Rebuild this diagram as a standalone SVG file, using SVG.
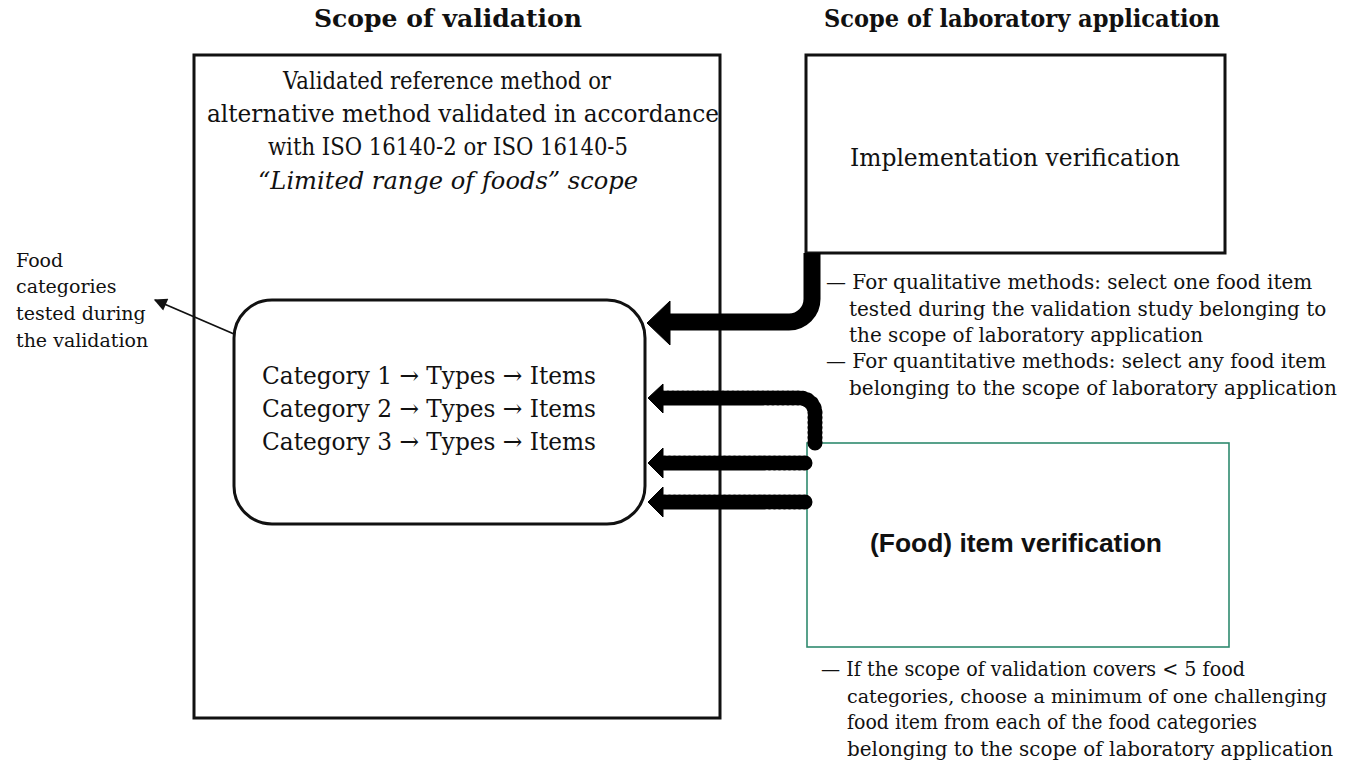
<svg xmlns="http://www.w3.org/2000/svg" width="1345" height="773" viewBox="0 0 1345 773">
  <style>
    .serif { font-family: "DejaVu Serif", "Liberation Serif", serif; fill: #111; }
    .title { font-weight: bold; font-size: 24px; }
    .body { font-size: 24px; }
    .note { font-size: 20px; }
    .box { fill: #fff; stroke: #111; stroke-width: 3; }
    .green { fill: #fff; stroke: #2f8a6e; stroke-width: 1.6; }
    .solid { fill: none; stroke: #000; stroke-width: 17; }
    .dots { fill: none; stroke: #000; stroke-width: 15; stroke-dasharray: 1 4; stroke-linecap: round; stroke-linejoin: round; }
    .head { fill: #000; stroke: #000; stroke-width: 1; stroke-linejoin: round; }
    .thin { fill: none; stroke: #111; stroke-width: 1.8; }
  </style>
  <defs>
    <marker id="tipLarge" viewBox="0 0 10 10" refX="9" refY="5" markerWidth="15" markerHeight="13" markerUnits="userSpaceOnUse" orient="auto">
      <path d="M0 0 L10 5 L0 10 Z" fill="#111"/>
    </marker>
  </defs>
  <rect width="1345" height="773" fill="#fff"/>

  <!-- column headings -->
  <g id="headings" class="serif title">
    <text x="314" y="27" textLength="268" lengthAdjust="spacingAndGlyphs">Scope of validation</text>
    <text x="824" y="27" textLength="396" lengthAdjust="spacingAndGlyphs">Scope of laboratory application</text>
  </g>

  <!-- scope of validation: outer frame -->
  <g id="validation-scope">
    <rect class="box" x="194" y="55" width="526" height="663"/>
    <g class="serif body">
      <text x="283" y="89" textLength="328" lengthAdjust="spacingAndGlyphs">Validated reference method or</text>
      <text x="207" y="122" textLength="512" lengthAdjust="spacingAndGlyphs">alternative method validated in accordance</text>
      <text x="268" y="155" textLength="360" lengthAdjust="spacingAndGlyphs">with ISO 16140-2 or ISO 16140-5</text>
      <text x="258" y="189" textLength="380" lengthAdjust="spacingAndGlyphs" font-style="italic">“Limited range of foods” scope</text>
    </g>
  </g>

  <!-- tested food categories -->
  <g id="food-categories">
    <rect class="box" x="234" y="300" width="411" height="224" rx="38" ry="38"/>
    <g class="serif" font-size="24.5">
      <text x="262" y="384" textLength="334" lengthAdjust="spacingAndGlyphs">Category 1 → Types → Items</text>
      <text x="262" y="417" textLength="334" lengthAdjust="spacingAndGlyphs">Category 2 → Types → Items</text>
      <text x="262" y="450" textLength="334" lengthAdjust="spacingAndGlyphs">Category 3 → Types → Items</text>
    </g>
  </g>

  <!-- side label -->
  <g id="categories-label" class="serif" font-size="19">
    <text x="16" y="267">Food</text>
    <text x="16" y="293">categories</text>
    <text x="16" y="320">tested during</text>
    <text x="16" y="347">the validation</text>
  </g>

  <!-- implementation verification -->
  <g id="implementation-verification">
    <rect class="box" x="806" y="55" width="419" height="198" stroke-width="2.5"/>
    <text class="serif body" x="850" y="166" textLength="330" lengthAdjust="spacingAndGlyphs">Implementation verification</text>
  </g>

  <g id="implementation-notes" class="serif note">
    <text x="826" y="289">— For qualitative methods: select one food item</text>
    <text x="849" y="316">tested during the validation study belonging to</text>
    <text x="849" y="342">the scope of laboratory application</text>
    <text x="826" y="368">— For quantitative methods: select any food item</text>
    <text x="849" y="395">belonging to the scope of laboratory application</text>
  </g>

  <!-- food item verification -->
  <g id="item-verification">
    <rect class="green" x="807" y="443" width="422" height="204"/>
    <text x="870" y="552" font-family="'Liberation Sans', Arial, sans-serif" font-weight="bold" font-size="25" fill="#111" textLength="292" lengthAdjust="spacingAndGlyphs">(Food) item verification</text>
  </g>

  <g id="item-notes" class="serif note">
    <text x="821" y="676" textLength="424" lengthAdjust="spacingAndGlyphs">— If the scope of validation covers &lt; 5 food</text>
    <text x="847" y="703" font-size="19" textLength="480" lengthAdjust="spacingAndGlyphs">categories, choose a minimum of one challenging</text>
    <text x="847" y="729" textLength="410" lengthAdjust="spacingAndGlyphs">food item from each of the food categories</text>
    <text x="847" y="756" textLength="486" lengthAdjust="spacingAndGlyphs">belonging to the scope of laboratory application</text>
  </g>

  <!-- connectors -->
  <g id="connectors">
    <path class="solid" d="M812 253 V299 A23 23 0 0 1 789 322 H666"/>
    <polygon class="head" points="647,323 670,301 670,345"/>

    <path class="dots" d="M815 443 V413 A15 15 0 0 0 800 398 H662"/>
    <polygon class="head" points="648,398 663,384 663,413"/>

    <path class="dots" d="M805 463 H662"/>
    <polygon class="head" points="648,463 663,448 663,478"/>

    <path class="dots" d="M805 502 H662"/>
    <polygon class="head" points="648,502 663,487 663,517"/>

    <line class="thin" x1="234" y1="334" x2="155" y2="300" marker-end="url(#tipLarge)"/>
  </g>
</svg>
